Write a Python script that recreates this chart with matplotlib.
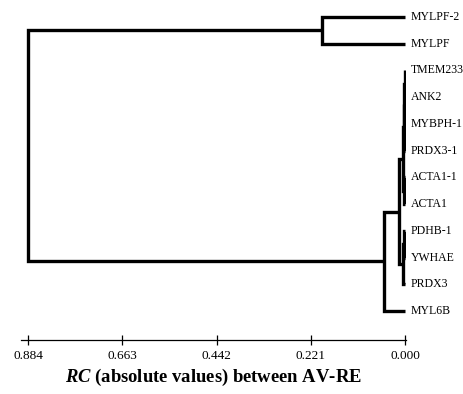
import matplotlib
matplotlib.use("Agg")
import matplotlib.pyplot as plt

plt.rcParams['font.family'] = ['Liberation Serif', 'DejaVu Serif']
plt.rcParams['mathtext.fontset'] = 'custom'
plt.rcParams['mathtext.it'] = 'Liberation Serif:italic:bold'
plt.rcParams['mathtext.rm'] = 'Liberation Serif:bold'

# Leaves, top to bottom
leaves = ["MYLPF-2", "MYLPF", "TMEM233", "ANK2", "MYBPH-1", "PRDX3-1",
          "ACTA1-1", "ACTA1", "PDHB-1", "YWHAE", "PRDX3", "MYL6B"]

# Merge steps (children are leaf names or node ids "n#") and merge heights
merge_left = ["TMEM233", "n0", "n1", "ACTA1-1", "n2", "PDHB-1", "n5", "n4", "n7", "MYLPF-2", "n9"]
merge_right = ["ANK2", "MYBPH-1", "PRDX3-1", "ACTA1", "n3", "YWHAE", "PRDX3", "n6", "MYL6B", "MYLPF", "n8"]
merge_height = [0.0010, 0.0015, 0.0020, 0.0030, 0.0045, 0.0030, 0.0050, 0.0150, 0.0490, 0.1950, 0.8840]

tick_values = [0.884, 0.663, 0.442, 0.221, 0.000]
tick_labels = ["0.884", "0.663", "0.442", "0.221", "0.000"]

W, H = 464, 394
fig = plt.figure(figsize=(W / 100, H / 100), dpi=100)
ax = fig.add_axes([20.7 / W, (H - 340) / H, (406 - 20.7) / W, (340 - 5) / H])

pos = {name: (float(i), 0.0) for i, name in enumerate(leaves)}
for k, (a, b, h) in enumerate(zip(merge_left, merge_right, merge_height)):
    ya, ha = pos[a]
    yb, hb = pos[b]
    ax.plot([ha, h, h, hb], [ya, ya, yb, yb], color='black', lw=2.4,
            solid_joinstyle='miter', solid_capstyle='butt')
    pos["n%d" % k] = ((ya + yb) / 2.0, h)

for i, name in enumerate(leaves):
    ax.text(-0.0135, i, name, ha='left', va='center', fontsize=8.5, clip_on=False)

spacing = (311 - 17) / (len(leaves) - 1)
ax.set_ylim(len(leaves) - 1 + (340 - 311) / spacing, -(17 - 5) / spacing)
px_per_unit = (405 - 28) / 0.884
ax.set_xlim(0.884 + (28 - 20.7) / px_per_unit, -(406 - 405) / px_per_unit)

for s in ['left', 'top', 'right']:
    ax.spines[s].set_visible(False)
ax.spines['bottom'].set_linewidth(0.9)
ax.set_yticks([])
ax.set_xticks(tick_values)
ax.set_xticklabels(tick_labels, fontsize=9.5)
ax.tick_params(axis='x', direction='inout', length=7, width=0.9, pad=4)
ax.set_xlabel(r"$RC$ (absolute values) between AV-RE", fontsize=13.4,
              fontweight='bold', labelpad=3)

fig.savefig("out.png", dpi=100)
